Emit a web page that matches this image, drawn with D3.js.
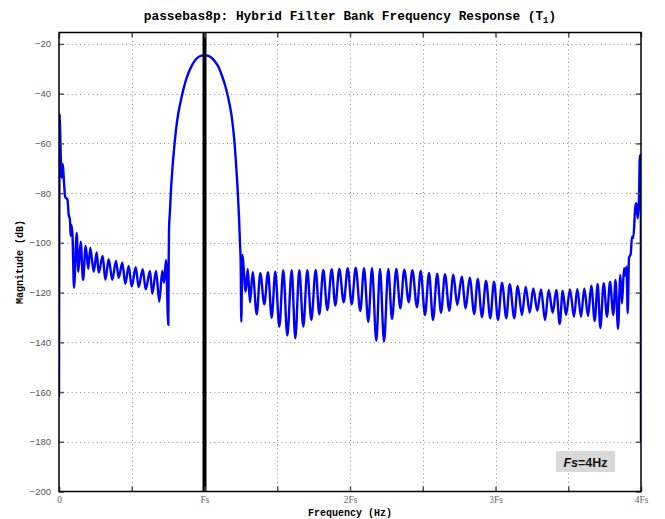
<!DOCTYPE html>
<html><head><meta charset="utf-8">
<script src="https://cdn.jsdelivr.net/npm/d3@7"></script>
<style>
html,body{margin:0;padding:0;background:#fff;}
svg{display:block;}
</style></head>
<body><svg id="chart" width="665" height="519"></svg>
<script>
// ---------- data ----------
const sampleRateHz = 4;
const xTickValues = [0, 2, 4, 6, 8, 10, 12, 14, 16];
const xTickLabels = ["0", "", "Fs", "", "2Fs", "", "3Fs", "", "4Fs"];
const yTickValues = [-200, -180, -160, -140, -120, -100, -80, -60, -40, -20];
const markerFreqHz = [4];

const freqHz = [
 0.000,0.019,0.044,0.071,0.104,0.137,0.170,0.234,0.264,0.302,0.319,0.346,0.374,0.412,0.487,0.531,0.597,0.660,0.734,0.805,
 0.860,0.954,1.036,1.091,1.201,1.273,1.366,1.465,1.567,1.641,1.740,1.823,1.916,1.999,2.109,2.191,2.301,2.384,2.502,2.565,
 2.667,2.757,2.840,2.887,2.942,3.005,
 3.016,3.024,3.052,3.079,3.115,3.161,3.216,3.280,3.373,3.464,3.555,3.648,3.739,3.830,3.923,4.014,4.104,4.198,4.289,4.379,
 4.473,4.564,4.654,4.748,4.811,4.866,4.912,4.948,4.976,4.995,5.012,
 5.039,5.133,5.188,5.251,5.325,5.435,5.534,5.644,5.746,5.847,5.946,6.056,6.166,6.276,6.397,6.496,6.606,6.716,6.826,6.936,
 7.057,7.156,7.266,7.376,7.497,7.596,7.706,7.827,7.937,8.047,8.157,8.283,8.385,8.503,8.605,8.723,8.825,8.935,9.053,9.155,
 9.273,9.383,9.493,9.614,9.713,9.842,9.944,10.062,10.172,10.282,10.397,
 10.502,10.612,10.730,10.840,10.950,11.071,11.181,11.291,11.417,11.511,11.629,11.739,11.857,11.959,12.069,12.179,12.297,
 12.390,12.517,12.610,12.728,12.830,12.940,13.039,13.149,13.251,13.361,13.463,13.572,13.672,13.765,
 13.848,13.938,14.048,14.158,14.249,14.351,14.441,14.543,14.634,14.727,14.809,14.881,14.975,15.065,15.148,15.238,15.299,
 15.368,15.431,15.478,15.533,15.574,15.602,15.635,15.670,15.717,15.753,15.788,15.843,15.871,15.909,15.945,15.964,15.981,
 15.995,16.000
];
const magnitudeDb = [
 -162.0,-48.2,-62.6,-73.9,-68.3,-75.5,-81.5,-82.7,-88.4,-90.8,-97.2,-92.8,-98.0,-118.1,-96.0,-111.6,-99.5,-114.9,-101.2,-110.5,
 -102.0,-111.6,-103.9,-112.0,-105.3,-114.9,-106.6,-114.9,-107.3,-114.1,-108.0,-116.5,-109.3,-117.6,-109.8,-117.8,-110.6,-118.7,-111.3,-120.5,
 -111.3,-123.6,-111.3,-116.1,-106.9,-133.0,
 -106.9,-94.8,-86.8,-78.7,-70.7,-62.6,-54.6,-47.9,-41.2,-35.8,-31.8,-28.8,-26.7,-25.3,-24.7,-24.5,-24.8,-25.6,-27.1,-29.1,
 -32.5,-36.5,-41.8,-49.2,-57.3,-68.0,-78.7,-89.5,-100.2,-108.2,-131.7,
 -104.9,-119.6,-110.5,-123.9,-111.8,-128.7,-112.2,-124.7,-111.8,-130.1,-111.6,-133.7,-111.0,-137.3,-111.0,-138.4,-111.0,-133.7,-111.0,-131.0,
 -110.9,-128.7,-110.9,-127.0,-110.6,-125.2,-110.5,-123.9,-110.2,-124.7,-110.0,-127.4,-110.2,-131.7,-110.2,-139.4,-110.5,-139.7,-110.5,-130.6,
 -110.5,-126.3,-110.8,-123.9,-111.0,-125.8,-111.3,-129.0,-112.1,-131.0,-112.4,
 -128.1,-112.6,-127.3,-112.8,-125.0,-113.6,-126.3,-114.0,-128.6,-114.5,-129.9,-115.2,-130.3,-115.6,-131.0,-116.0,-130.3,
 -116.6,-130.3,-117.3,-129.0,-117.6,-128.1,-118.3,-127.3,-118.7,-131.0,-118.9,-128.1,-118.9,-132.6,
 -119.2,-129.0,-118.7,-129.7,-118.5,-129.7,-118.3,-129.4,-117.2,-131.4,-116.5,-134.3,-116.2,-129.7,-115.6,-129.0,-114.9,
 -134.6,-112.9,-124.3,-110.2,-113.3,-109.6,-128.3,-106.1,-104.5,-97.5,-98.0,-85.6,-84.1,-90.1,-81.9,-66.7,-64.6,
 -73.4,-180.0
];

// ---------- layout ----------
const L = 59, R = 641, T = 32.5, B = 491.5;
const svg = d3.select("#chart");
const x = d3.scaleLinear().domain([0, 4 * sampleRateHz]).range([L, R]);
const y = d3.scaleLinear().domain([-200, -15.4]).range([B, T]);

// grid
const grid = svg.append("g").attr("stroke", "#8c8c8c").attr("stroke-width", 1).attr("stroke-dasharray", "1,3.2");
xTickValues.slice(1, -1).forEach(v => {
  grid.append("line").attr("x1", Math.round(x(v)) + 0.5).attr("x2", Math.round(x(v)) + 0.5).attr("y1", T).attr("y2", B);
});
yTickValues.slice(1).forEach(v => {
  grid.append("line").attr("y1", Math.round(y(v)) + 0.5).attr("y2", Math.round(y(v)) + 0.5).attr("x1", L).attr("x2", R);
});

// clip
svg.append("clipPath").attr("id", "clip").append("rect").attr("x", L).attr("y", T).attr("width", R - L).attr("height", B - T);

// response curve
const pts = freqHz.map((f, i) => [f, magnitudeDb[i]]);
const line = d3.line().x(d => x(d[0])).y(d => y(d[1])).curve(d3.curveMonotoneX);
svg.append("path").datum(pts).attr("clip-path", "url(#clip)")
  .attr("d", line).attr("fill", "none").attr("stroke", "#0000ff").attr("stroke-width", 2.4)
  .attr("stroke-linejoin", "round");

// marker line at Fs
svg.selectAll(".marker").data(markerFreqHz).enter().append("line")
  .attr("x1", d => x(d)).attr("x2", d => x(d)).attr("y1", T).attr("y2", B)
  .attr("stroke", "#000").attr("stroke-width", 4);

// axes with inward ticks
const tickCol = "#555";
const axB = d3.axisBottom(x).tickValues(xTickValues).tickFormat((d, i) => xTickLabels[i]).tickSizeInner(-5).tickSizeOuter(0).tickPadding(5);
const gB = svg.append("g").attr("transform", `translate(0,${B})`).call(axB);
const axT = d3.axisTop(x).tickValues(xTickValues).tickFormat("").tickSizeInner(-5).tickSizeOuter(0);
const gT = svg.append("g").attr("transform", `translate(0,${T})`).call(axT);
const axLft = d3.axisLeft(y).tickValues(yTickValues).tickFormat(d3.format("d")).tickSizeInner(-5).tickSizeOuter(0).tickPadding(8);
const gL = svg.append("g").attr("transform", `translate(${L},0)`).call(axLft);
const axRt = d3.axisRight(y).tickValues(yTickValues).tickFormat("").tickSizeInner(-5).tickSizeOuter(0);
const gR = svg.append("g").attr("transform", `translate(${R},0)`).call(axRt);
[gB, gT, gL, gR].forEach(g => {
  g.select(".domain").remove();
  g.selectAll(".tick line").attr("stroke", tickCol).attr("stroke-width", 1.5);
});
gL.selectAll(".tick text").attr("font-family", "'Liberation Sans', Arial, sans-serif").attr("font-size", 9.5).attr("fill", "#555");
gB.selectAll(".tick text").attr("font-family", "'Liberation Serif', 'Times New Roman', serif").attr("font-size", 9.5).attr("fill", "#666");

// frame
svg.append("rect").attr("x", L).attr("y", T).attr("width", R - L).attr("height", B - T)
  .attr("fill", "none").attr("stroke", "#000").attr("stroke-width", 1.5);

// title
const title = svg.append("text").attr("x", 350).attr("y", 20).attr("text-anchor", "middle")
  .attr("font-family", "'Liberation Mono', 'Courier New', monospace").attr("font-weight", "bold").attr("font-size", 12.8).attr("fill", "#000");
title.append("tspan").text("passebas8p: Hybrid Filter Bank Frequency Response (T");
title.append("tspan").attr("dy", 3).attr("font-size", 9).text("1");
title.append("tspan").attr("dy", -3).text(")");

// axis labels
svg.append("text").attr("x", 350).attr("y", 516).attr("text-anchor", "middle")
  .attr("font-family", "'Liberation Mono', 'Courier New', monospace").attr("font-weight", "bold").attr("font-size", 10).text("Frequency (Hz)");
svg.append("text").attr("transform", "translate(23,262) rotate(-90)").attr("text-anchor", "middle")
  .attr("font-family", "'Liberation Mono', 'Courier New', monospace").attr("font-weight", "bold").attr("font-size", 10).text("Magnitude (dB)");

// Fs annotation
svg.append("rect").attr("x", 556).attr("y", 451).attr("width", 59).attr("height", 21).attr("fill", "#d9d9d9");
const ann = svg.append("text").attr("x", 585.5).attr("y", 466.5).attr("text-anchor", "middle")
  .attr("font-family", "'Liberation Sans', Arial, sans-serif").attr("font-weight", "bold").attr("font-size", 12.5).attr("fill", "#111");
ann.append("tspan").attr("font-style", "italic").text("Fs");
ann.append("tspan").text("=" + sampleRateHz + "Hz");
</script></body></html>
